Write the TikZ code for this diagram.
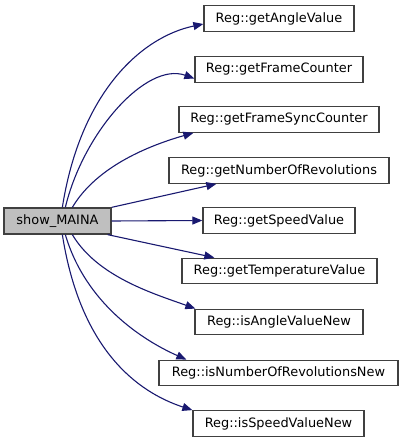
\documentclass[tikz,border=0pt]{standalone}
\usepackage{fontspec}
\setmainfont{DejaVu Sans}
\usetikzlibrary{arrows.meta,calc}
\definecolor{edgeblue}{HTML}{191970}
\definecolor{boxline}{HTML}{404040}
\definecolor{mainfill}{HTML}{BFBFBF}
\tikzset{
  fn/.style={draw=boxline, line width=1.3pt, fill=white, rectangle, inner sep=0pt,
    minimum height=25.5pt, font=\fontsize{12.9}{15}\selectfont},
  call/.style={draw=edgeblue, line width=1.1pt, -{Triangle[length=10pt,width=8pt]}},
}
\begin{document}
\begin{tikzpicture}[x=1pt,y=-1pt]
\useasboundingbox (0,0) rectangle (404,443);
\node[fn, fill=mainfill, minimum width=107pt, minimum height=26pt] (main) at (57.5,221) {show\_MAINA};
\node[fn, minimum width=150pt] (a1) at (279,18.5) {Reg::getAngleValue};
\node[fn, minimum width=168pt] (a2) at (279,69.5) {Reg::getFrameCounter};
\node[fn, minimum width=200pt] (a3) at (279,119.5) {Reg::getFrameSyncCounter};
\node[fn, minimum width=220pt] (a4) at (279,170.5) {Reg::getNumberOfRevolutions};
\node[fn, minimum width=152pt] (a5) at (279,220.5) {Reg::getSpeedValue};
\node[fn, minimum width=195pt] (a6) at (279.5,271) {Reg::getTemperatureValue};
\node[fn, minimum width=168pt] (a7) at (279,322) {Reg::isAngleValueNew};
\node[fn, minimum width=239pt] (a8) at (278.5,373) {Reg::isNumberOfRevolutionsNew};
\node[fn, minimum width=171pt] (a9) at (278.5,423.5) {Reg::isSpeedValueNew};

\draw[call] ([xshift=59pt]main.north west) .. controls +(18,-115) and +(-62,13) .. ([yshift=-5.5pt]a1.west);
\draw[call] ([xshift=62pt]main.north west) .. controls +(18,-75) and +(-48,-17) .. ([yshift=-9pt]a2.west);
\draw[call] ([xshift=69pt]main.north west) .. controls +(25,-42) and +(-42,12) .. ([xshift=15pt]a3.south west);
\draw[call] (main.north east) -- ([xshift=48pt]a4.south west);
\draw[call] (main.east) -- (a5.west);
\draw[call] ([xshift=-4pt]main.south east) -- ([xshift=33pt]a6.north west);
\draw[call] ([xshift=69pt]main.south west) .. controls +(25,42) and +(-42,-15) .. ([xshift=1pt]a7.north west);
\draw[call] ([xshift=62pt]main.south west) .. controls +(20,68) and +(-45,-20) .. ([xshift=28pt]a8.north west);
\draw[call] ([xshift=59pt]main.south west) .. controls +(18,115) and +(-55,-18) .. (a9.north west);
\end{tikzpicture}
\end{document}
